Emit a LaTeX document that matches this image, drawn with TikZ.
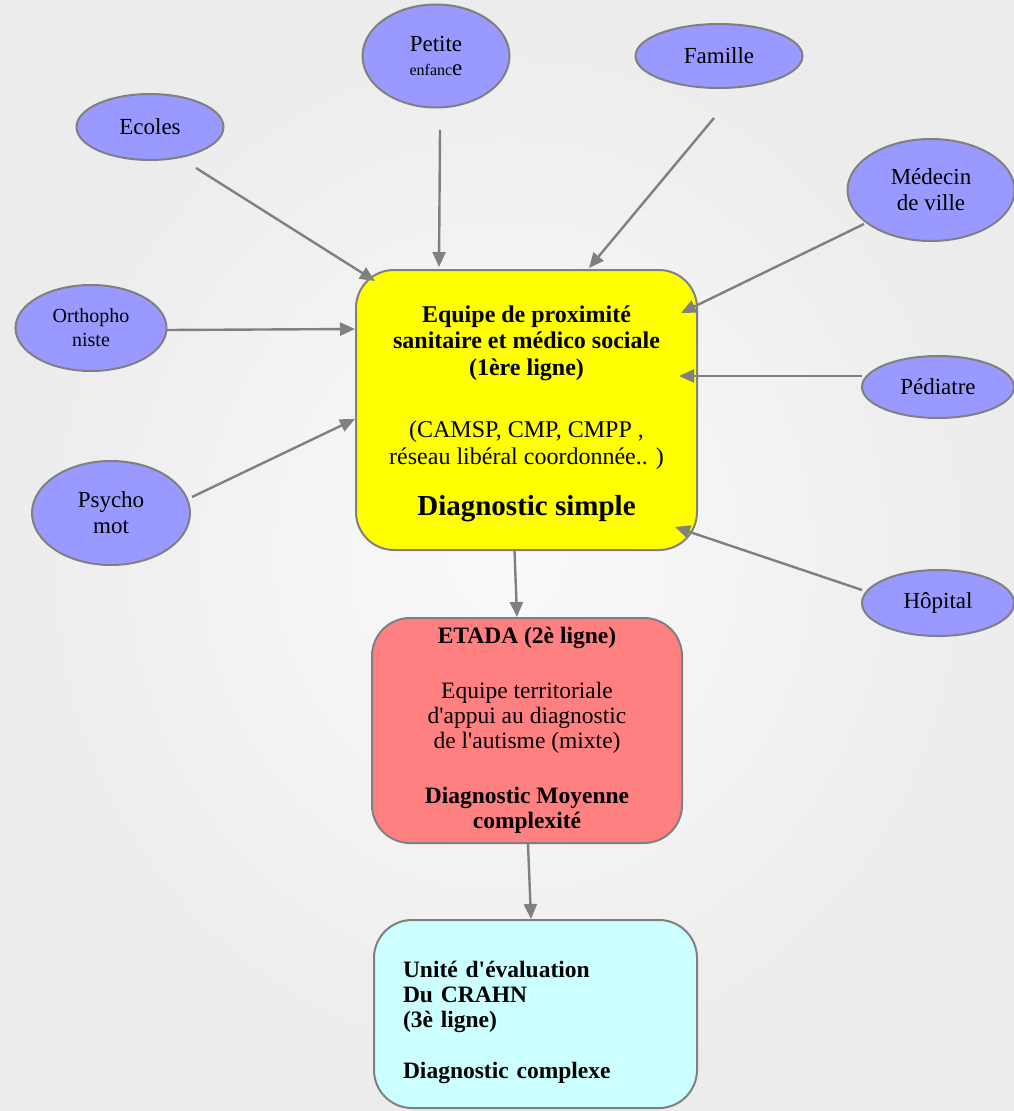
\documentclass[tikz,border=0pt]{standalone}
\usepackage{fontspec}
\setmainfont{Liberation Serif}
\usetikzlibrary{shapes.geometric,arrows.meta,calc}
\definecolor{bgin}{RGB}{250,250,250}
\definecolor{bgout}{RGB}{236,236,236}
\definecolor{ellfill}{RGB}{153,153,255}
\definecolor{edgegray}{RGB}{128,128,128}
\definecolor{yelfill}{RGB}{255,255,0}
\definecolor{redfill}{RGB}{255,128,128}
\definecolor{cyanfill}{RGB}{204,255,255}
\tikzset{
  ell/.style={ellipse, draw=edgegray, line width=2pt, fill=ellfill, inner sep=0pt, align=center,
    font=\fontsize{23}{26}\selectfont},
  bigbox/.style={rectangle, rounded corners=38pt, draw=edgegray, line width=2pt, inner sep=0pt},
  boxtext/.style={inner sep=0pt},
  conn/.style={draw=edgegray, line width=2.4pt, -{Triangle[length=15pt,width=13pt]}},
}
\begin{document}
\begin{tikzpicture}[x=1pt,y=-1pt]
\useasboundingbox (0,0) rectangle (1014,1111);
\shade[inner color=bgin, outer color=bgout] (0,0) rectangle (1014,1111);

% ellipses
\node[ell, minimum width=147pt, minimum height=66pt] (ecoles) at (150,127) {Ecoles};
\node[ell, minimum width=147pt, minimum height=103pt] (petite) at (436,56) {Petite\\[-2pt]{\fontsize{16}{18}\selectfont enfanc}e};
\node[ell, minimum width=167pt, minimum height=64pt] (famille) at (719,56) {Famille};
\node[ell, minimum width=167pt, minimum height=102pt] (medecin) at (931,190) {Médecin\\de ville};
\node[ell, minimum width=151pt, minimum height=86pt, font=\fontsize{20}{24}\selectfont] (ortho) at (91,328) {Orthopho\\niste};
\node[ell, minimum width=152pt, minimum height=62pt] (pediatre) at (938,387) {Pédiatre};
\node[ell, minimum width=158pt, minimum height=104pt] (psycho) at (111,513) {Psycho\\mot};
\node[ell, minimum width=152pt, minimum height=66pt] (hopital) at (938,603) {Hôpital};

% boxes
\node[bigbox, fill=yelfill, minimum width=341pt, minimum height=280pt] (yel) at (526.5,410) {};
\node[boxtext, align=center, font=\fontsize{24}{26.5}\selectfont] (yeltxt) at (526.5,414)
  {\textbf{Equipe de proximité}\\\textbf{sanitaire et médico sociale}\\\textbf{(1ère ligne)}\\[36pt]
   (CAMSP, CMP, CMPP ,\\réseau libéral coordonnée.. )\\[25pt]
   {\fontsize{29}{32}\selectfont\textbf{Diagnostic simple}}};

\node[bigbox, fill=redfill, minimum width=310pt, minimum height=225pt, align=center,
  font=\fontsize{23.5}{25}\selectfont] (red) at (527,730.5)
  {\textbf{ETADA (2è ligne)}\\[30pt]
   Equipe territoriale\\d\textquotesingle appui au diagnostic\\de l\textquotesingle autisme (mixte)\\[30pt]
   \textbf{Diagnostic Moyenne}\\\textbf{complexité}};

\node[bigbox, fill=cyanfill, minimum width=323pt, minimum height=188pt] (cyan) at (535.5,1014) {};
\node[boxtext, text width=265pt, align=left, font=\fontsize{23.5}{25}\selectfont\bfseries] (cyantxt) at (535.5,1022)
  {Unité d\textquotesingle évaluation\\Du CRAHN\\(3è ligne)\\[26pt]Diagnostic complexe};

% connector start points
\coordinate (sEcoles) at (196,168);
\coordinate (sPetite) at (440,130);
\coordinate (sFamille) at (714,118);
\coordinate (sMedecin) at (864,224);
\coordinate (sOrtho) at (167,330);
\coordinate (sPediatre) at (862,376);
\coordinate (sPsycho) at (192,497);
\coordinate (sHopital) at (862,590);

\draw[conn] (sEcoles) -- ($(yel.north west)+(20,12)$);
\draw[conn] (sPetite) -- ($(yel.north west)+(84,-2)$);
\draw[conn] (sFamille) -- ($(yel.north west)+(234,-1)$);
\draw[conn] (sMedecin) -- ($(yel.north west)+(326,44)$);
\draw[conn] (sOrtho) -- ($(yel.north west)+(0,60)$);
\draw[conn] (sPediatre) -- ($(yel.north west)+(324,107)$);
\draw[conn] (sPsycho) -- ($(yel.north west)+(0,150)$);
\draw[conn] (sHopital) -- ($(yel.north west)+(320,258)$);

\draw[conn] ($(yel.south)+(-12,0)$) -- ($(red.north)+(-10,0)$);
\draw[conn] ($(red.south)+(1,0)$) -- ($(cyan.north)+(-4.5,0)$);
\end{tikzpicture}
\end{document}
